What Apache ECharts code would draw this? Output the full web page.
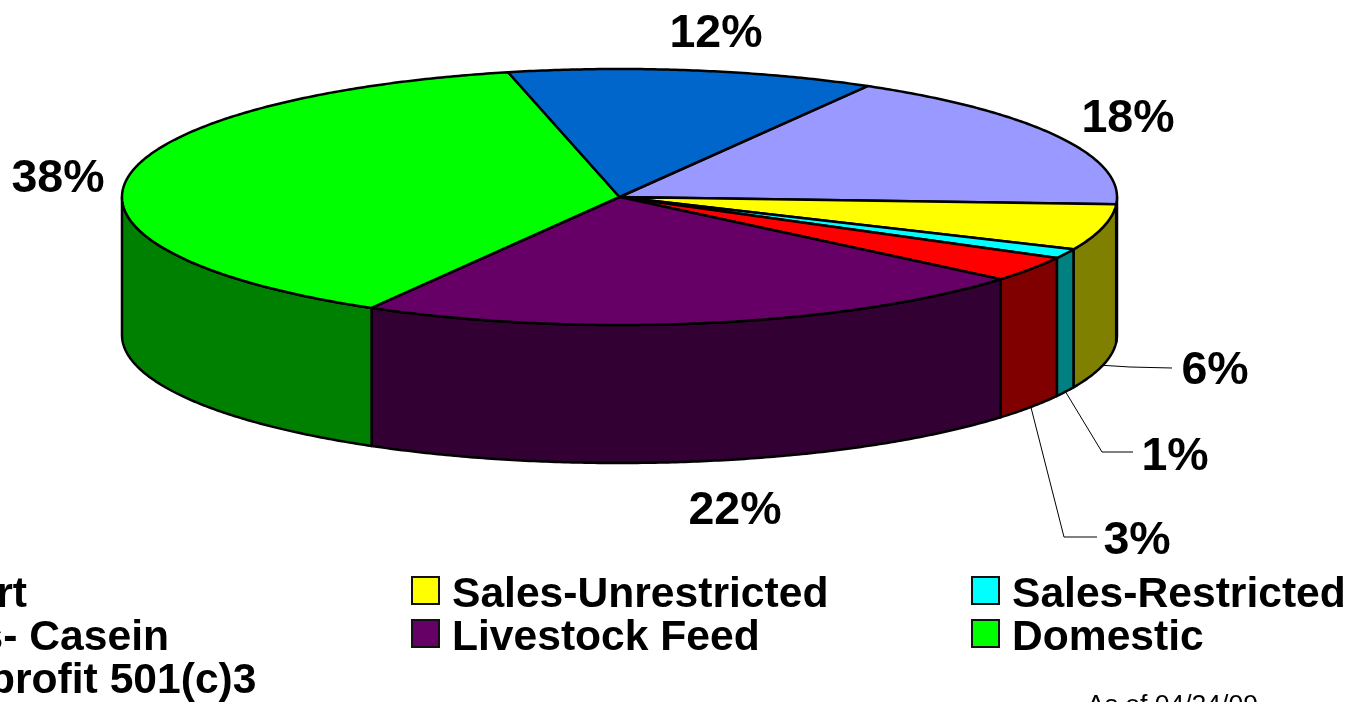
<!DOCTYPE html>
<html>
<head>
<meta charset="utf-8">
<style>html,body{margin:0;padding:0;background:#fff;overflow:hidden}#chart{width:1357px;height:702px}</style>
<script src="https://cdn.jsdelivr.net/npm/echarts@6/dist/echarts.min.js"></script>
</head>
<body>
<div id="chart"></div>
<script>
// Data, in clockwise drawing order from the periwinkle slice
const categories = ['Export', 'Sales-Unrestricted', 'Sales-Restricted', 'Sales- Casein', 'Livestock Feed', 'Domestic', 'Non-profit 501(c)3'];
const values = [17.6, 5.8, 1.2, 3.2, 22.2, 38.1, 11.9];
const topColors = ['#9999ff', '#ffff00', '#00ffff', '#ff0000', '#660066', '#00ff00', '#0066cc'];
const sideColors = ['#4d4d80', '#808000', '#008080', '#800000', '#330033', '#008000', '#003366'];

// Layout
const FONT = '"Liberation Sans", Arial, sans-serif';
const CX = 619.5, CY = 197, RX = 497.5, RY = 128, DEPTH = 138, START = 29.9;
const labelCentres = [[1128, 119], [1215, 371], [1175, 457], [1137, 541], [735, 511], [58, 179], [716, 34]];
const leaderElbows = [null, [[1130, 367], [1172, 368]], [[1102, 452], [1133, 452]], [[1064, 537], [1097, 537]], null, null, null];
const legendCells = [[-149, 574], [411, 574], [971, 574], [-149, 617], [411, 617], [971, 617], [-149, 660]];

const total = values.reduce((a, b) => a + b, 0);
const rad = d => d * Math.PI / 180;
const px = t => CX + RX * Math.sin(rad(t));
const py = t => CY - RY * Math.cos(rad(t));

function arc(t1, t2, dy) {
  const n = Math.max(2, Math.ceil(Math.abs(t2 - t1) / 0.5));
  const out = [];
  for (let i = 0; i <= n; i++) {
    const t = t1 + (t2 - t1) * i / n;
    out.push([px(t), py(t) + dy]);
  }
  return out;
}

function sliceItem(idx) {
  return function () {
    let before = 0;
    for (let i = 0; i < idx; i++) before += values[i];
    const t1 = START + before / total * 360;
    const t2 = t1 + values[idx] / total * 360;
    const mid = (t1 + t2) / 2;
    const children = [];
    const s1 = Math.max(t1, 90), s2 = Math.min(t2, 270);
    if (s2 > s1) {
      children.push({
        type: 'polygon',
        shape: { points: arc(s1, s2, 0).concat(arc(s2, s1, DEPTH)) },
        style: { fill: sideColors[idx], stroke: '#000', lineWidth: 2.5, lineJoin: 'round' }
      });
    }
    children.push({
      type: 'polygon',
      shape: { points: [[CX, CY]].concat(arc(t1, t2, 0)) },
      style: { fill: topColors[idx], stroke: '#000', lineWidth: 2.5, lineJoin: 'round' }
    });
    if (leaderElbows[idx]) {
      children.push({
        type: 'polyline',
        shape: { points: [[px(mid), py(mid) + DEPTH]].concat(leaderElbows[idx]) },
        style: { fill: null, stroke: '#000', lineWidth: 1 }
      });
    }
    children.push({
      type: 'text',
      style: {
        text: Math.round(values[idx]) + '%',
        x: labelCentres[idx][0], y: labelCentres[idx][1],
        align: 'center', verticalAlign: 'middle',
        font: 'bold 46.5px ' + FONT, fill: '#000'
      }
    });
    return { type: 'group', children };
  };
}

const option = {
  animation: false,
  backgroundColor: '#fff',
  legend: categories.map((name, i) => ({
    data: [name],
    left: legendCells[i][0],
    top: legendCells[i][1],
    padding: 0,
    icon: 'rect',
    itemWidth: 27,
    itemHeight: 27,
    itemStyle: { borderColor: '#111', borderWidth: 2 },
    formatter: '{t|{name}}',
    textStyle: {
      rich: { t: { fontFamily: FONT, fontWeight: 'bold', fontSize: 42.6, color: '#000', padding: [10, 0, 0, 8] } }
    }
  })),
  graphic: [{
    type: 'text',
    left: 1087,
    top: 692,
    style: { text: 'As of 04/24/09', font: '26.5px ' + FONT, fill: '#000' }
  }],
  series: categories.map((name, i) => ({
    type: 'custom',
    name,
    coordinateSystem: 'none',
    renderItem: sliceItem(i),
    data: [values[i]],
    itemStyle: { color: topColors[i] },
    silent: true
  }))
};

const chart = echarts.init(document.getElementById('chart'));
chart.setOption(option);
</script>
</body>
</html>
